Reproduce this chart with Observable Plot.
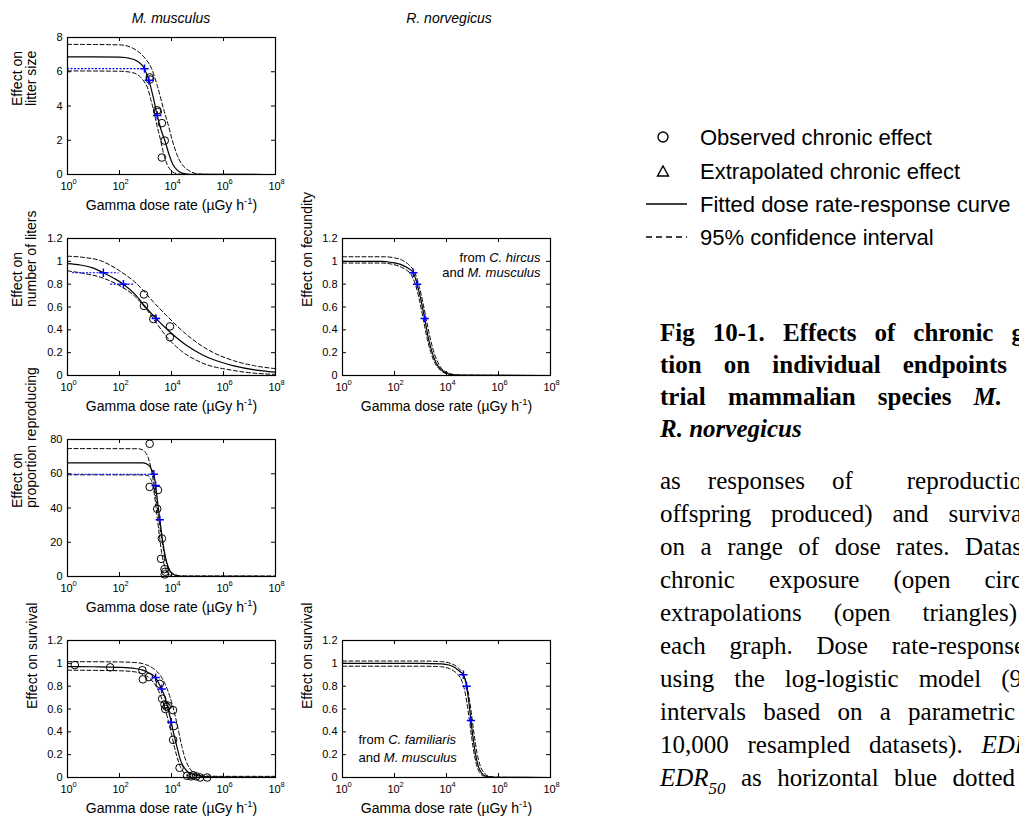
<!DOCTYPE html>
<html><head><meta charset="utf-8">
<script src="https://cdn.jsdelivr.net/npm/d3@7"></script>
<script src="https://cdn.jsdelivr.net/npm/@observablehq/plot@0.6"></script>
<style>
html,body{margin:0;padding:0;background:#fff;overflow:hidden}
#page{position:relative;width:1019px;height:818px;overflow:hidden;background:#fff;font-family:"Liberation Sans",Arial,sans-serif}
#page svg{position:absolute;overflow:visible}
</style></head><body><div id="page"></div>
<script>
// ---------- axis ticks ----------
const doseExp = [0, 2, 4, 6, 8];               // x ticks: 10^0 ... 10^8
const litterTicks = [0, 2, 4, 6, 8];
const fracTicks = [0, 0.2, 0.4, 0.6, 0.8, 1, 1.2];
const pctTicks = [0, 20, 40, 60, 80];

// ---------- data: [log10 dose rate, effect] ----------
// A: M. musculus, litter size
const litterFit = [[0,6.87],[1,6.87],[2,6.85],[2.4,6.78],[2.7,6.6],[2.96,6.18],[3.13,5.5],[3.3,4.5],[3.45,3.45],[3.6,2.6],[3.74,2.0],[3.9,1.2],[4.05,0.6],[4.2,0.28],[4.4,0.08],[4.7,0.01],[8,0]];
const litterUpper = [[0,7.6],[2,7.57],[2.4,7.45],[2.7,7.2],[3.0,6.75],[3.23,6.2],[3.45,5.2],[3.7,3.8],[3.9,2.75],[4.03,2.0],[4.2,1.2],[4.4,0.6],[4.6,0.3],[4.8,0.12],[5.1,0.03],[5.5,0.005],[8,0]];
const litterLower = [[0,6.05],[2,6.03],[2.5,5.95],[2.8,5.7],[3.0,5.3],[3.07,5.1],[3.2,4.4],[3.32,3.7],[3.45,2.8],[3.58,2.0],[3.7,1.2],[3.83,0.6],[4.0,0.2],[4.2,0.05],[4.5,0],[8,0]];
const litterObs = [[3.16,5.67],[3.17,5.55],[3.45,3.75],[3.47,3.65],[3.63,3.0],[3.74,1.98],[3.63,0.99]];
// EDR markers: [log10 EDR, effect level, log10 lower CI, log10 upper CI]
const litterEDR = [[2.96,6.18,0,3.05],[3.13,5.5,3.05,3.2],[3.45,3.45,3.38,3.52]];

// B: M. musculus, number of litters
const littersFit = [[0,0.98],[0.5,0.968],[1.0,0.94],[1.38,0.9],[1.8,0.85],[2.15,0.8],[2.6,0.71],[3.0,0.6],[3.4,0.5],[3.9,0.39],[4.6,0.26],[5.2,0.18],[5.6,0.14],[6.4,0.085],[7.2,0.05],[8,0.03]];
const littersUpper = [[0,1.045],[0.6,1.035],[1.28,1.005],[1.98,0.92],[2.68,0.8],[3.32,0.64],[3.83,0.52],[4.47,0.38],[5.37,0.23],[6.39,0.13],[7.2,0.085],[8,0.06]];
const littersLower = [[0,0.917],[0.6,0.895],[1.28,0.86],[1.98,0.79],[2.56,0.7],[3.07,0.57],[3.45,0.45],[3.83,0.335],[4.35,0.22],[5.11,0.117],[6.39,0.044],[7.2,0.02],[8,0.01]];
const littersObs = [[2.94,0.71],[2.94,0.61],[3.3,0.495],[3.94,0.43],[3.94,0.335]];
const littersEDR = [[1.38,0.9,0.19,1.98],[2.15,0.8,1.66,2.56],[3.4,0.5,3.26,3.58]];

// C: R. norvegicus, fecundity (extrapolated)
const fecundFit = [[0,1.0],[1.5,1.0],[1.9,0.99],[2.2,0.975],[2.45,0.95],[2.72,0.9],[2.87,0.8],[3.0,0.68],[3.16,0.5],[3.3,0.33],[3.45,0.2],[3.6,0.11],[3.8,0.05],[4.06,0.015],[4.5,0.002],[8,0]];
const fecundUpper = [[0,1.04],[1.6,1.04],[2.0,1.03],[2.3,1.01],[2.55,0.97],[2.8,0.89],[2.95,0.78],[3.1,0.63],[3.25,0.46],[3.4,0.3],[3.55,0.18],[3.75,0.08],[4.0,0.03],[4.4,0.005],[8,0]];
const fecundLower = [[0,0.985],[1.5,0.985],[1.9,0.975],[2.2,0.955],[2.45,0.925],[2.65,0.88],[2.8,0.8],[2.95,0.67],[3.1,0.5],[3.25,0.33],[3.4,0.2],[3.55,0.11],[3.75,0.05],[4.0,0.015],[4.4,0.002],[8,0]];
const fecundEDR = [[2.72,0.9,2.66,2.78],[2.87,0.8,2.82,2.92],[3.16,0.5,3.12,3.2]];

// D: M. musculus, proportion reproducing
const reproFit = [[0,66.4],[2.5,66.4],[2.9,66.3],[3.1,65.3],[3.2,63.5],[3.28,61],[3.32,59.7],[3.39,53],[3.47,43],[3.55,33.2],[3.63,24],[3.72,15],[3.82,8],[3.95,3],[4.1,1],[4.4,0.1],[8,0]];
const reproUpper = [[0,74.7],[2.7,74.6],[2.88,74],[3.0,72.5],[3.1,69.5],[3.2,64],[3.3,56],[3.4,46],[3.5,35],[3.6,24],[3.7,15],[3.8,8.5],[3.9,4.5],[4.05,1.8],[4.3,0.5],[4.6,0.3],[8,0.3]];
const reproLower = [[0,59.4],[2.9,59.3],[3.1,58.8],[3.2,57],[3.27,54],[3.33,49],[3.4,41],[3.47,32],[3.55,22],[3.62,14],[3.7,8],[3.8,3.5],[3.9,1.2],[4.1,0.2],[4.4,0],[8,0]];
const reproObs = [[3.16,77.5],[3.16,52.3],[3.48,50.5],[3.45,39.5],[3.63,22.2],[3.6,10.3],[3.73,4.3],[3.76,2.8],[3.74,1.2]];
const reproEDR = [[3.32,59.7,0,3.4],[3.39,53.1,3.35,3.45],[3.55,33.2,3.52,3.58]];

// E: M. musculus, survival
const survMFit = [[0,0.972],[1,0.97],[2,0.965],[2.6,0.955],[2.9,0.94],[3.1,0.92],[3.25,0.9],[3.39,0.875],[3.5,0.83],[3.62,0.775],[3.75,0.7],[3.87,0.6],[3.99,0.485],[4.1,0.37],[4.22,0.26],[4.32,0.17],[4.45,0.1],[4.6,0.055],[4.85,0.025],[5.1,0.012],[5.5,0.006],[8,0.004]];
const survMUpper = [[0,1.015],[2,1.012],[2.7,1.005],[3.0,0.99],[3.3,0.955],[3.55,0.9],[3.75,0.82],[3.95,0.7],[4.1,0.58],[4.25,0.43],[4.4,0.27],[4.55,0.15],[4.7,0.08],[4.9,0.035],[5.2,0.015],[6,0.01],[8,0.01]];
const survMLower = [[0,0.94],[2,0.935],[2.6,0.925],[2.9,0.905],[3.1,0.88],[3.3,0.835],[3.5,0.76],[3.7,0.64],[3.85,0.52],[4.0,0.38],[4.1,0.28],[4.2,0.19],[4.35,0.09],[4.5,0.035],[4.7,0.01],[5,0],[8,0]];
const survMObs = [[0.28,0.985],[1.64,0.965],[2.88,0.94],[2.9,0.86],[3.13,0.88],[3.55,0.82],[3.64,0.69],[3.73,0.64],[3.81,0.62],[3.76,0.6],[3.86,0.63],[4.06,0.59],[4.09,0.45],[4.06,0.33],[4.31,0.085],[4.6,0.015],[4.75,0.01],[4.83,0.02],[4.95,0.01],[5.1,0.0],[5.37,0.0]];
const survMEDR = [[3.39,0.875,3.3,3.47],[3.62,0.775,3.57,3.67],[3.99,0.485,3.95,4.03]];

// F: R. norvegicus, survival (extrapolated)
const survRFit = [[0,1.0],[3,1.0],[3.8,0.995],[4.1,0.985],[4.3,0.965],[4.5,0.93],[4.65,0.9],[4.77,0.8],[4.86,0.66],[4.94,0.5],[5.02,0.35],[5.12,0.2],[5.22,0.1],[5.35,0.04],[5.5,0.012],[5.8,0.002],[8,0]];
const survRUpper = [[0,1.02],[3,1.02],[3.8,1.015],[4.15,1.0],[4.4,0.97],[4.6,0.92],[4.75,0.84],[4.87,0.7],[4.97,0.54],[5.06,0.38],[5.17,0.22],[5.3,0.1],[5.45,0.04],[5.65,0.01],[6,0.002],[8,0]];
const survRLower = [[0,0.975],[3,0.975],[3.8,0.97],[4.1,0.955],[4.3,0.93],[4.45,0.9],[4.6,0.84],[4.72,0.74],[4.82,0.6],[4.9,0.47],[4.98,0.33],[5.08,0.19],[5.18,0.09],[5.3,0.035],[5.45,0.01],[5.7,0.001],[8,0]];
const survREDR = [[4.65,0.9,4.6,4.7],[4.77,0.8,4.73,4.81],[4.94,0.5,4.9,4.98]];

// ---------- texts ----------
const speciesTitles = ["M. musculus", "R. norvegicus"];
const xLabel = "Gamma dose rate (µGy h^-1^)";
const legendLabels = ["Observed chronic effect", "Extrapolated chronic effect", "Fitted dose rate-response curve", "95% confidence interval"];
const captionBold = ["Fig 10-1. Effects of chronic g", "tion on individual endpoints", "trial mammalian species *M.*", "*R. norvegicus*"];
const captionBody = ["as responses of  reproductio", "offspring produced) and surviva", "on a range of dose rates. Datas", "chronic exposure (open circ", "extrapolations (open triangles)", "each graph. Dose rate-response", "using the log-logistic model (9", "intervals based on a parametric", "10,000 resampled datasets). *EDR*", "*EDR*_50_ as horizontal blue dotted"];

// ---------- layout ----------
const FW = 208, FH = 137, ML = 62, MR = 6, MT = 6, MB = 46;
const page = document.getElementById("page");
const panels = [
  {x0: 67, y0: 37, yDomain: [0, 8], yTicks: litterTicks, ylabel: "Effect on\nlitter size", two: true,
   fit: litterFit, upper: litterUpper, lower: litterLower, obs: litterObs, edr: litterEDR},
  {x0: 67, y0: 238, yDomain: [0, 1.2], yTicks: fracTicks, ylabel: "Effect on\nnumber of liters", two: true,
   fit: littersFit, upper: littersUpper, lower: littersLower, obs: littersObs, edr: littersEDR},
  {x0: 342, y0: 238, yDomain: [0, 1.2], yTicks: fracTicks, ylabel: "Effect on fecundity", two: false,
   fit: fecundFit, upper: fecundUpper, lower: fecundLower, obs: [], edr: fecundEDR,
   note: {lines: ["from *C. hircus*", "and *M. musculus*"], anchor: "top-right", dx: -10, dy: [19, 34], textAnchor: "end"}},
  {x0: 67, y0: 439, yDomain: [0, 80], yTicks: pctTicks, ylabel: "Effect on\nproportion reproducing", two: true,
   fit: reproFit, upper: reproUpper, lower: reproLower, obs: reproObs, edr: reproEDR},
  {x0: 67, y0: 640, yDomain: [0, 1.2], yTicks: fracTicks, ylabel: "Effect on survival", two: false,
   fit: survMFit, upper: survMUpper, lower: survMLower, obs: survMObs, edr: survMEDR},
  {x0: 342, y0: 640, yDomain: [0, 1.2], yTicks: fracTicks, ylabel: "Effect on survival", two: false,
   fit: survRFit, upper: survRUpper, lower: survRLower, obs: [], edr: survREDR,
   note: {lines: ["from *C. familiaris*", "and *M. musculus*"], anchor: "bottom-left", dx: 16, dy: [-38, -20], textAnchor: "start"}}
];

const pts = arr => arr.map(([l, y]) => ({x: 10 ** l, y}));

function richify(root) {
  root.querySelectorAll("text").forEach(t => {
    if (t.querySelector("tspan")) return;
    const s = t.textContent;
    if (!/[*^_]/.test(s)) return;
    const fs = parseFloat(getComputedStyle(t).fontSize);
    t.textContent = "";
    const parts = s.split(/(\*[^*]+\*|\^[^^]+\^|_[^_]+_)/).filter(p => p);
    let shift = 0;
    for (const p of parts) {
      const ts = document.createElementNS("http://www.w3.org/2000/svg", "tspan");
      let txt = p, dy = 0, small = false, ital = false;
      if (p[0] === "*") { txt = p.slice(1, -1); ital = true; }
      else if (p[0] === "^") { txt = p.slice(1, -1); small = true; dy = -0.42 * fs; }
      else if (p[0] === "_") { txt = p.slice(1, -1); small = true; dy = 0.3 * fs; ital = true; }
      ts.textContent = txt;
      const d = dy - shift;
      if (d) ts.setAttribute("dy", d);
      shift = dy;
      if (small) ts.setAttribute("font-size", 0.68 * fs);
      if (ital) ts.setAttribute("font-style", "italic");
      t.appendChild(ts);
    }
  });
}

for (const p of panels) {
  const [ya, yb] = p.yDomain;
  const tLenY = (yb - ya) * 4 / FH;
  const tLenX = 8 * 4 / FW;
  const marks = [
    Plot.line(pts(p.upper), {x: "x", y: "y", stroke: "black", strokeWidth: 1, strokeDasharray: "4,2.5", curve: "monotone-x", clip: true}),
    Plot.line(pts(p.lower), {x: "x", y: "y", stroke: "black", strokeWidth: 1, strokeDasharray: "4,2.5", curve: "monotone-x", clip: true}),
    Plot.line(pts(p.fit), {x: "x", y: "y", stroke: "black", strokeWidth: 1.2, curve: "monotone-x", clip: true}),
    Plot.dot(pts(p.obs), {x: "x", y: "y", r: 3.8, stroke: "black", fill: "none", strokeWidth: 1}),
    Plot.ruleY(p.edr, {y: d => d[1], x1: d => 10 ** d[2], x2: d => 10 ** d[3], stroke: "#0000ff", strokeWidth: 1.2, strokeDasharray: "2,1.5"}),
    Plot.dot(p.edr, {x: d => 10 ** d[0], y: d => d[1], symbol: "plus", r: 2.8, stroke: "#0000ff", strokeWidth: 1.5}),
    Plot.frame({stroke: "black", strokeWidth: 1.2}),
    Plot.ruleX(doseExp, {x: e => 10 ** e, y1: ya, y2: ya + tLenY, stroke: "black"}),
    Plot.ruleX(doseExp, {x: e => 10 ** e, y1: yb - tLenY, y2: yb, stroke: "black"}),
    Plot.ruleY(p.yTicks, {y: d => d, x1: 1, x2: 10 ** tLenX, stroke: "black"}),
    Plot.ruleY(p.yTicks, {y: d => d, x1: 10 ** (8 - tLenX), x2: 1e8, stroke: "black"}),
    Plot.axisY({ticks: p.yTicks, tickSize: 0, tickPadding: 5, fontSize: 11, label: null, tickFormat: d => String(d)}),
    Plot.text(doseExp, {x: e => 10 ** e, frameAnchor: "bottom", lineAnchor: "middle", text: () => "10", dy: 12, dx: -1, fontSize: 11}),
    Plot.text(doseExp, {x: e => 10 ** e, frameAnchor: "bottom", lineAnchor: "middle", text: e => String(e), dy: 7, dx: 5, fontSize: 7.5, textAnchor: "start"}),
    Plot.text([xLabel], {frameAnchor: "bottom", lineAnchor: "middle", dy: 31, fontSize: 14}),
    Plot.text([p.ylabel], {frameAnchor: "left", dx: p.two ? -43 : -35, rotate: -90, fontSize: 14, lineHeight: 1.0})
  ];
  if (p.note) {
    p.note.lines.forEach((ln, i) => marks.push(Plot.text([ln], {frameAnchor: p.note.anchor, lineAnchor: "middle", dx: p.note.dx, dy: p.note.dy[i], textAnchor: p.note.textAnchor, fontSize: 13})));
  }
  const svg = Plot.plot({
    width: FW + ML + MR, height: FH + MT + MB,
    marginLeft: ML, marginRight: MR, marginTop: MT, marginBottom: MB,
    x: {type: "log", domain: [1, 1e8], axis: null},
    y: {domain: p.yDomain, axis: null},
    style: {fontFamily: "'Liberation Sans', Arial, sans-serif", background: "transparent", overflow: "visible", color: "black"},
    marks
  });
  svg.style.left = (p.x0 - ML) + "px";
  svg.style.top = (p.y0 - MT) + "px";
  page.appendChild(svg);
  richify(svg);
}

// ---------- titles, legend, caption ----------
const ov = d3.select(page).append("svg").attr("width", 1019).attr("height", 818).style("left", "0px").style("top", "0px")
  .style("font-family", "'Liberation Sans', Arial, sans-serif");
const titleX = [171, 449];
speciesTitles.forEach((t, i) => ov.append("text").attr("x", titleX[i]).attr("y", 23).attr("text-anchor", "middle")
  .attr("font-size", 14).attr("font-style", "italic").text(t));

const legY = [137, 171, 204, 237];
const lg = ov.append("g");
lg.append("circle").attr("cx", 663).attr("cy", legY[0]).attr("r", 5).attr("fill", "none").attr("stroke", "black").attr("stroke-width", 1.4);
lg.append("path").attr("d", `M657.5,${legY[1] + 5}L668.5,${legY[1] + 5}L663,${legY[1] - 5}Z`).attr("fill", "none").attr("stroke", "black").attr("stroke-width", 1.4);
lg.append("line").attr("x1", 646).attr("x2", 687).attr("y1", legY[2]).attr("y2", legY[2]).attr("stroke", "black").attr("stroke-width", 1.6);
lg.append("line").attr("x1", 646).attr("x2", 687).attr("y1", legY[3]).attr("y2", legY[3]).attr("stroke", "black").attr("stroke-width", 1.6).attr("stroke-dasharray", "6,4");
legendLabels.forEach((t, i) => lg.append("text").attr("x", 700).attr("y", legY[i] + 8).attr("font-size", 22).text(t));

const capLeft = 660, capFont = 25;
const boldBase = [341, 373, 405, 437];
const boldEnd = [1024, 1007, 1002, null];
const bodyEnd = [1022, 1022, 1022, 1022, 1017, 1025, 1022, 1015, 1030, 1015];
const cap = ov.append("g").attr("font-family", "'Liberation Serif', 'Times New Roman', serif").attr("font-size", capFont);
function capLine(str, y, end, bold) {
  const t = cap.append("text").attr("x", capLeft).attr("y", y).attr("font-weight", bold ? "bold" : "normal")
    .style("white-space", "pre").text(str);
  const holder = document.createElementNS("http://www.w3.org/2000/svg", "g");
  t.node().parentNode.insertBefore(holder, t.node());
  holder.appendChild(t.node());
  richify(holder);
  if (end) {
    const nat = t.node().getComputedTextLength();
    const n = (t.node().textContent.match(/ /g) || []).length;
    if (n) t.attr("word-spacing", Math.max(0, (end - capLeft - nat) / n));
  }
}
captionBold.forEach((s, i) => capLine(s, boldBase[i], boldEnd[i], true));
captionBody.forEach((s, i) => capLine(s, 489 + 33 * i, bodyEnd[i], false));
</script></body></html>
